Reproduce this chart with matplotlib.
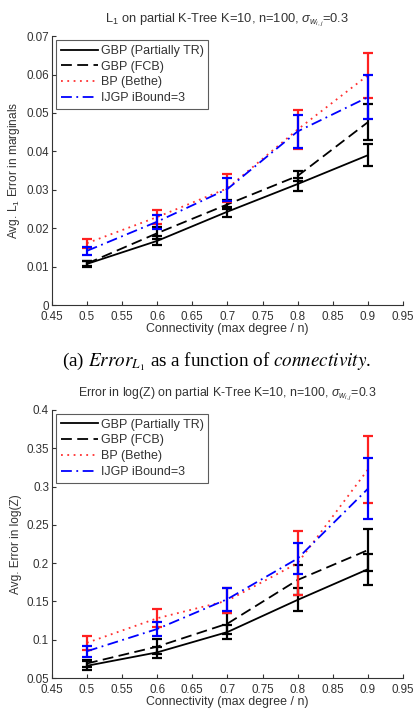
import numpy as np
import matplotlib
matplotlib.use("Agg")
import matplotlib.pyplot as plt

plt.rcParams['font.family'] = ['Liberation Sans', 'DejaVu Sans']
plt.rcParams['mathtext.fontset'] = 'custom'
plt.rcParams['mathtext.rm'] = 'Liberation Sans'
plt.rcParams['mathtext.it'] = 'Liberation Sans:italic'

connectivity = [0.5, 0.6, 0.7, 0.8, 0.9]
labels = ['GBP (Partially TR)', 'GBP (FCB)', 'BP (Bethe)', 'IJGP iBound=3']

# L1 error in marginals
l1_tr = [0.0107, 0.0167, 0.0243, 0.0315, 0.0390]
l1_tr_err = [0.0007, 0.0012, 0.0013, 0.0017, 0.0028]
l1_fcb = [0.0108, 0.0187, 0.0262, 0.0336, 0.0476]
l1_fcb_err = [0.0007, 0.0015, 0.0012, 0.0014, 0.0047]
l1_bp = [0.0161, 0.0229, 0.0304, 0.0457, 0.0598]
l1_bp_err = [0.0012, 0.0018, 0.0036, 0.0050, 0.0058]
l1_ijgp = [0.0141, 0.0217, 0.0302, 0.0452, 0.0541]
l1_ijgp_err = [0.0011, 0.0018, 0.0030, 0.0043, 0.0057]

# error in log(Z)
lz_tr = [0.0660, 0.0835, 0.1100, 0.1520, 0.1920]
lz_tr_err = [0.0060, 0.0070, 0.0090, 0.0150, 0.0200]
lz_fcb = [0.0690, 0.0910, 0.1210, 0.1780, 0.2170]
lz_fcb_err = [0.0050, 0.0100, 0.0140, 0.0200, 0.0270]
lz_bp = [0.0960, 0.1280, 0.1510, 0.2000, 0.3220]
lz_bp_err = [0.0090, 0.0120, 0.0160, 0.0420, 0.0440]
lz_ijgp = [0.0850, 0.1140, 0.1530, 0.2060, 0.2970]
lz_ijgp_err = [0.0070, 0.0090, 0.0150, 0.0200, 0.0400]

styles = [
    dict(color='black', linestyle='-', linewidth=1.3),
    dict(color='black', linestyle=(0, (6, 3)), linewidth=1.3),
    dict(color='#ff3030', linestyle=(0, (1, 2.5)), linewidth=1.3),
    dict(color='blue', linestyle=(0, (6, 2.5, 1, 2.5)), linewidth=1.3),
]
bar_colors = ['black', 'black', '#ff2020', 'blue']
grey = '#333333'


def draw(ax, series, ylim, yticks, ylabel, title, title_size):
    for (vals, errs), st, bc, lab in zip(series, styles, bar_colors, labels):
        ax.plot(connectivity, vals, label=lab, **st)
        ax.errorbar(connectivity, vals, yerr=errs, fmt='none', ecolor=bc,
                    elinewidth=1.6, capsize=3.5, capthick=1.6)
    ax.set_xlim(0.45, 0.95)
    ax.set_xticks(np.arange(0.45, 0.951, 0.05))
    ax.set_xticklabels(['0.45', '0.5', '0.55', '0.6', '0.65', '0.7',
                        '0.75', '0.8', '0.85', '0.9', '0.95'])
    ax.set_ylim(*ylim)
    ax.set_yticks(yticks)
    ax.set_yticklabels(['%g' % t for t in yticks])
    for s in ['top', 'right']:
        ax.spines[s].set_visible(False)
    for s in ['left', 'bottom']:
        ax.spines[s].set_color(grey)
        ax.spines[s].set_linewidth(0.8)
    ax.tick_params(direction='in', length=3, labelsize=8.4, colors=grey)
    ax.tick_params(axis='x', pad=4.5)
    ax.tick_params(axis='y', pad=2)
    ax.set_xlabel('Connectivity (max degree / n)', fontsize=8.9, color=grey,
                  labelpad=0)
    ax.set_ylabel(ylabel, fontsize=8.6, color=grey, labelpad=3)
    ax.set_title(title, fontsize=title_size, color=grey, pad=10)
    leg = ax.legend(loc='upper left', fontsize=9, frameon=True,
                    fancybox=False, borderaxespad=0.3, handlelength=3.0,
                    handletextpad=0.2, labelspacing=0.3, borderpad=0.4)
    leg.get_frame().set_edgecolor(grey)
    leg.get_frame().set_linewidth(0.8)
    for t in leg.get_texts():
        t.set_color(grey)


fig = plt.figure(figsize=(4.18, 7.15), dpi=100)
ax1 = fig.add_axes([0.124, 0.5734, 0.840, 0.376])
ax2 = fig.add_axes([0.124, 0.0517, 0.840, 0.375])

draw(ax1,
     [(l1_tr, l1_tr_err), (l1_fcb, l1_fcb_err), (l1_bp, l1_bp_err),
      (l1_ijgp, l1_ijgp_err)],
     (0, 0.07), [0, 0.01, 0.02, 0.03, 0.04, 0.05, 0.06, 0.07],
     r'Avg. L$_1$ Error in marginals',
     r'L$_1$ on partial K-Tree K=10, n=100, $\sigma_{w_{i,j}}$=0.3', 9.3)

draw(ax2,
     [(lz_tr, lz_tr_err), (lz_fcb, lz_fcb_err), (lz_bp, lz_bp_err),
      (lz_ijgp, lz_ijgp_err)],
     (0.05, 0.4), [0.05, 0.1, 0.15, 0.2, 0.25, 0.3, 0.35, 0.4],
     'Avg. Error in log(Z)',
     r'Error in log(Z) on partial K-Tree K=10, n=100, $\sigma_{w_{i,j}}$=0.3',
     8.9)

fig.text(0.518, 0.494, r'(a) $Error_{L_1}$ as a function of $connectivity$.',
         ha='center', va='center', fontsize=13.8, family='Liberation Serif',
         math_fontfamily='stix', color='black')

fig.savefig('out.png', dpi=100)
